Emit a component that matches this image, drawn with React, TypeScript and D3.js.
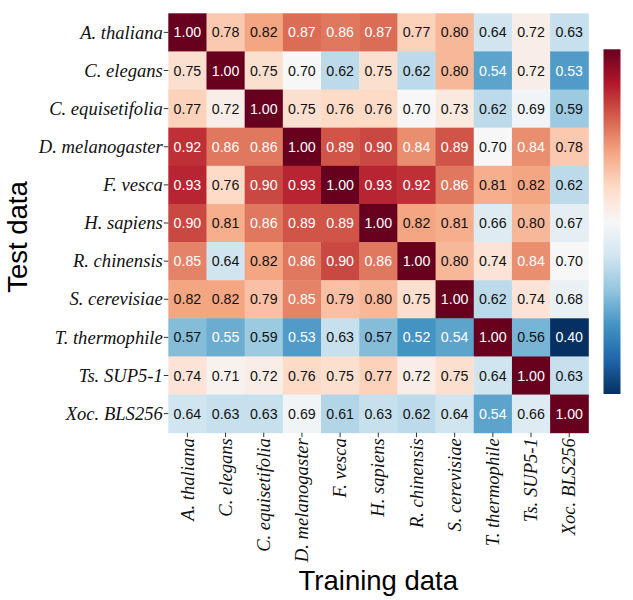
import React from "react";
import * as d3 from "d3";

const species = [
  "A. thaliana",
  "C. elegans",
  "C. equisetifolia",
  "D. melanogaster",
  "F. vesca",
  "H. sapiens",
  "R. chinensis",
  "S. cerevisiae",
  "T. thermophile",
  "Ts. SUP5-1",
  "Xoc. BLS256",
];

const rowAThaliana = [1.0, 0.78, 0.82, 0.87, 0.86, 0.87, 0.77, 0.8, 0.64, 0.72, 0.63];
const rowCElegans = [0.75, 1.0, 0.75, 0.7, 0.62, 0.75, 0.62, 0.8, 0.54, 0.72, 0.53];
const rowCEquisetifolia = [0.77, 0.72, 1.0, 0.75, 0.76, 0.76, 0.7, 0.73, 0.62, 0.69, 0.59];
const rowDMelanogaster = [0.92, 0.86, 0.86, 1.0, 0.89, 0.9, 0.84, 0.89, 0.7, 0.84, 0.78];
const rowFVesca = [0.93, 0.76, 0.9, 0.93, 1.0, 0.93, 0.92, 0.86, 0.81, 0.82, 0.62];
const rowHSapiens = [0.9, 0.81, 0.86, 0.89, 0.89, 1.0, 0.82, 0.81, 0.66, 0.8, 0.67];
const rowRChinensis = [0.85, 0.64, 0.82, 0.86, 0.9, 0.86, 1.0, 0.8, 0.74, 0.84, 0.7];
const rowSCerevisiae = [0.82, 0.82, 0.79, 0.85, 0.79, 0.8, 0.75, 1.0, 0.62, 0.74, 0.68];
const rowTThermophile = [0.57, 0.55, 0.59, 0.53, 0.63, 0.57, 0.52, 0.54, 1.0, 0.56, 0.4];
const rowTsSUP5 = [0.74, 0.71, 0.72, 0.76, 0.75, 0.77, 0.72, 0.75, 0.64, 1.0, 0.63];
const rowXocBLS256 = [0.64, 0.63, 0.63, 0.69, 0.61, 0.63, 0.62, 0.64, 0.54, 0.66, 1.0];

const matrix = [
  rowAThaliana,
  rowCElegans,
  rowCEquisetifolia,
  rowDMelanogaster,
  rowFVesca,
  rowHSapiens,
  rowRChinensis,
  rowSCerevisiae,
  rowTThermophile,
  rowTsSUP5,
  rowXocBLS256,
];

const vMin = 0.4;
const vMax = 1.0;
const xTitle = "Training data";
const yTitle = "Test data";

// matplotlib RdBu_r control points (low -> high)
const rdbuR = [
  "#053061", "#2166ac", "#4393c3", "#92c5de", "#d1e5f0", "#f7f7f7",
  "#fddbc7", "#f4a582", "#d6604d", "#b2182b", "#67001f",
];

const interp = d3.piecewise(d3.interpolateRgb, rdbuR);
const color = (v: number) => interp(Math.max(0, Math.min(1, (v - vMin) / (vMax - vMin))));

function luminance(c: string) {
  const rgb = d3.rgb(c);
  const f = (x: number) => {
    const s = x / 255;
    return s <= 0.03928 ? s / 12.92 : Math.pow((s + 0.055) / 1.055, 2.4);
  };
  return 0.2126 * f(rgb.r) + 0.7152 * f(rgb.g) + 0.0722 * f(rgb.b);
}

export default function App() {
  const W = 633;
  const H = 600;
  const left = 168.3;
  const right = 588.3;
  const top = 13.3;
  const bottom = 432.7;

  const x = d3.scaleBand<string>().domain(species).range([left, right]);
  const y = d3.scaleBand<string>().domain(species).range([top, bottom]);

  const cbX = 603.5;
  const cbW = 17;
  const cbTop = 49.3;
  const cbBottom = 394;
  const cbScale = d3.scaleLinear().domain([vMin, vMax]).range([cbBottom, cbTop]);
  const stops = d3.range(0, 1.0001, 0.05);

  const serif = "'Liberation Serif', 'Times New Roman', serif";
  const sans = "'Liberation Sans', Arial, sans-serif";

  return (
    <svg width={W} height={H} style={{ position: "absolute", left: 0, top: 0, background: "#fff" }}>
      <defs>
        <linearGradient id="cbgrad" x1="0" y1="1" x2="0" y2="0">
          {stops.map((t) => (
            <stop key={t} offset={`${t * 100}%`} stopColor={interp(t)} />
          ))}
        </linearGradient>
      </defs>
      <rect x={0} y={0} width={W} height={H} fill="#fff" />
      {matrix.map((row, i) =>
        row.map((v, j) => {
          const c = color(v);
          const txt = luminance(c) <= 0.408 ? "#ffffff" : "#111111";
          return (
            <g key={`${i}-${j}`}>
              <rect
                x={x(species[j])!}
                y={y(species[i])!}
                width={x.bandwidth() + 0.5}
                height={y.bandwidth() + 0.5}
                fill={c}
              />
              <text
                x={x(species[j])! + x.bandwidth() / 2}
                y={y(species[i])! + y.bandwidth() / 2}
                dy="0.36em"
                textAnchor="middle"
                fontFamily={sans}
                fontSize={14.2}
                fill={txt}
              >
                {v.toFixed(2)}
              </text>
            </g>
          );
        })
      )}
      {species.map((s) => {
        const cy = y(s)! + y.bandwidth() / 2;
        return (
          <g key={`yl-${s}`}>
            <line x1={left - 4.5} x2={left} y1={cy} y2={cy} stroke="#333" strokeWidth={1} />
            <text
              x={left - 5.5}
              y={cy}
              dy="0.33em"
              textAnchor="end"
              fontFamily={serif}
              fontStyle="italic"
              fontSize={18.6}
              fill="#111"
            >
              {s}
            </text>
          </g>
        );
      })}
      {species.map((s) => {
        const cx = x(s)! + x.bandwidth() / 2;
        return (
          <g key={`xl-${s}`}>
            <line x1={cx} x2={cx} y1={bottom} y2={bottom + 4.5} stroke="#333" strokeWidth={1} />
            <text
              transform={`translate(${cx},${bottom + 5.5}) rotate(-90)`}
              dy="0.33em"
              textAnchor="end"
              fontFamily={serif}
              fontStyle="italic"
              fontSize={18.6}
              fill="#111"
            >
              {s}
            </text>
          </g>
        );
      })}
      <rect x={cbX} y={cbScale(vMax)} width={cbW} height={cbScale(vMin) - cbScale(vMax)} fill="url(#cbgrad)" />
      <text
        x={(left + right) / 2}
        y={590}
        textAnchor="middle"
        fontFamily={sans}
        fontSize={27.5}
        fill="#000"
      >
        {xTitle}
      </text>
      <text
        transform={`translate(27,237) rotate(-90)`}
        textAnchor="middle"
        fontFamily={sans}
        fontSize={27.5}
        fill="#000"
      >
        {yTitle}
      </text>
    </svg>
  );
}
